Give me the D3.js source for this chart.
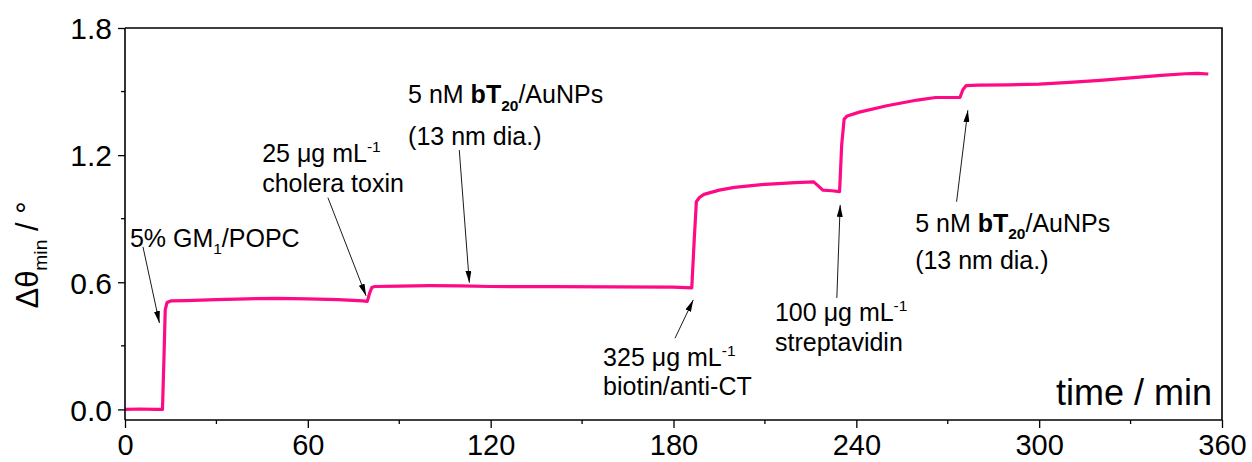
<!DOCTYPE html>
<html>
<head>
<meta charset="utf-8">
<script src="https://cdn.jsdelivr.net/npm/d3@7"></script>
<style>
  body { margin: 0; background: #fff; }
  text { font-family: "Liberation Sans", Arial, sans-serif; fill: #000; }
</style>
</head>
<body>
<div id="chart"></div>
<script>
// time (min) and shift of the SPR minimum angle (deg)
const times = [0, 5, 10, 12.3, 12.8, 13.2, 13.8, 15, 20, 30, 40, 50, 60, 70, 78, 79.5, 80.3, 81, 82,
  90, 100, 110, 120, 140, 160, 180, 186, 186.8, 187.5, 188.5, 190, 195, 200, 210, 220, 226,
  227.5, 229, 232, 234.5, 235.2, 236, 237, 241, 250, 260, 266, 270, 274, 275, 276, 280, 290,
  300, 310, 320, 330, 340, 348, 352, 355.5]
const shifts = [0, 0.002, 0, 0, 0.25, 0.47, 0.505, 0.512, 0.513, 0.518, 0.522, 0.524, 0.522, 0.518, 0.512, 0.51, 0.55, 0.575, 0.58,
  0.582, 0.584, 0.583, 0.58, 0.579, 0.578, 0.577, 0.574, 0.8, 0.98, 1.0, 1.015, 1.035, 1.048, 1.062, 1.07, 1.074,
  1.055, 1.035, 1.032, 1.028, 1.25, 1.37, 1.385, 1.403, 1.433, 1.46, 1.472, 1.472, 1.472, 1.51, 1.528, 1.53, 1.532,
  1.535, 1.543, 1.553, 1.565, 1.576, 1.584, 1.586, 1.583]

const xTicks = [0, 60, 120, 180, 240, 300, 360]
const xMinor = [30, 90, 150, 210, 270, 330]
const yTicks = [0.0, 0.6, 1.2, 1.8]
const yMinor = [0.3, 0.9, 1.5]

// injection labels: text lines (segments), text anchor and arrow tail/tip in data units
const noteLines = [
  [[['5% GM'], ['1', 'sub'], ['/POPC']]],
  [[['25 μg mL'], ['-1', 'sup']], [['cholera toxin']]],
  [[['5 nM '], ['bT', 'bold'], ['20', 'bold sub'], ['/AuNPs']], [['(13 nm dia.)']]],
  [[['325 μg mL'], ['-1', 'sup']], [['biotin/anti-CT']]],
  [[['100 μg mL'], ['-1', 'sup']], [['streptavidin']]],
  [[['5 nM '], ['bT', 'bold'], ['20', 'bold sub'], ['/AuNPs']], [['(13 nm dia.)']]]
]
const noteAt = [[1.6, 0.768], [45.0, 1.169], [92.9, 1.444], [156.9, 0.204], [213.3, 0.415], [259.3, 0.839]]
const noteGap = [30, 30, 42, 29, 30, 37]
const arrowFrom = [[5.9, 0.767], [66.6, 0.999], [109.7, 1.224], [180.5, 0.336], [233.6, 0.526], [272.9, 0.980]]
const arrowTo = [[11.3, 0.408], [79.1, 0.536], [113.0, 0.598], [186.5, 0.517], [234.7, 0.965], [276.6, 1.412]]

const width = 1252, height = 462
const margin = {left: 125, right: 30, top: 28, bottom: 42}

const svg = d3.select('#chart').append('svg')
  .attr('width', width)
  .attr('height', height)

const x = d3.scaleLinear().domain([0, 360]).range([margin.left, width - margin.right])
const y = d3.scaleLinear().domain([-0.05, 1.8]).range([height - margin.bottom, margin.top])

// rich text helper: segments of [string, kind], kind may hold 'bold', 'sup', 'sub'
function richText(g, px, py, segs, size) {
  const t = g.append('text').attr('x', px).attr('y', py).style('font-size', size + 'px')
  let shift = 0
  segs.forEach(([s, kind]) => {
    const k = (kind || '').split(' ')
    let target = 0
    if (k.includes('sup')) target = -size * 0.4
    if (k.includes('sub')) target = size * 0.3
    const sp = t.append('tspan').attr('dy', target - shift).text(s)
    shift = target
    if (k.includes('sup') || k.includes('sub')) sp.style('font-size', (size * 0.62) + 'px')
    if (k.includes('bold')) sp.style('font-weight', 'bold')
  })
  return t
}

// trace
const line = d3.line().x((d, i) => x(times[i])).y(d => y(d))
svg.append('path')
  .datum(shifts)
  .attr('d', line)
  .attr('fill', 'none')
  .attr('stroke', '#ff0a85')
  .attr('stroke-width', 3.2)
  .attr('stroke-linejoin', 'round')

// axes
const xAxis = svg.append('g')
  .attr('transform', `translate(0,${y.range()[0]})`)
  .call(d3.axisBottom(x).tickValues(xTicks).tickSize(8).tickFormat(d3.format('d')))
xAxis.append('g').selectAll('line').data(xMinor).join('line')
  .attr('x1', d => x(d)).attr('x2', d => x(d)).attr('y1', 0).attr('y2', 4)
  .attr('stroke', '#000').attr('stroke-width', 1.3)
xAxis.selectAll('.tick text').style('font-size', '29px').attr('dy', null).attr('y', 35)

const yAxis = svg.append('g')
  .attr('transform', `translate(${x.range()[0]},0)`)
  .call(d3.axisLeft(y).tickValues(yTicks).tickSize(7).tickFormat(d3.format('.1f')))
yAxis.append('g').selectAll('line').data(yMinor).join('line')
  .attr('x1', 0).attr('x2', -4).attr('y1', d => y(d)).attr('y2', d => y(d))
  .attr('stroke', '#000').attr('stroke-width', 1.3)
yAxis.selectAll('.tick text').style('font-size', '30px').attr('x', -13).attr('dy', '0.36em')

svg.selectAll('.domain').attr('stroke-width', 1.6)
svg.selectAll('.tick line').attr('stroke-width', 1.3)
xAxis.select('.domain').attr('d', `M${x.range()[0]},0H${x.range()[1]}`)
yAxis.select('.domain').attr('d', `M0,${y.range()[0]}V${y.range()[1]}`)

// top and right frame
svg.append('path')
  .attr('d', `M${x(0)},${y(1.8)}H${x(360)}V${y(-0.05)}`)
  .attr('fill', 'none')
  .attr('stroke', '#000')
  .attr('stroke-width', 1.6)

// axis titles
svg.append('text')
  .attr('x', x(360) - 10)
  .attr('y', y(-0.05) - 15)
  .attr('text-anchor', 'end')
  .style('font-size', '36px')
  .text('time / min')

const yl = richText(svg, 0, 0, [['Δθ'], ['min', 'sub'], [' / °']], 31)
yl.attr('text-anchor', 'middle')
  .attr('transform', 'translate(38,255) rotate(-90)')

// arrows
svg.append('defs').append('marker')
  .attr('id', 'head')
  .attr('viewBox', '0 0 12 6')
  .attr('refX', 12).attr('refY', 3)
  .attr('markerWidth', 12).attr('markerHeight', 6)
  .attr('markerUnits', 'userSpaceOnUse')
  .attr('orient', 'auto')
  .append('path').attr('d', 'M0,0L12,3L0,6Z').attr('fill', '#000')

const notes = svg.append('g')
noteLines.forEach((lines, i) => {
  notes.append('line')
    .attr('x1', x(arrowFrom[i][0])).attr('y1', y(arrowFrom[i][1]))
    .attr('x2', x(arrowTo[i][0])).attr('y2', y(arrowTo[i][1]))
    .attr('stroke', '#000').attr('stroke-width', 0.9)
    .attr('marker-end', 'url(#head)')
  lines.forEach((segs, j) => {
    richText(notes, x(noteAt[i][0]), y(noteAt[i][1]) + j * noteGap[i], segs, 25)
  })
})
</script>
</body>
</html>
